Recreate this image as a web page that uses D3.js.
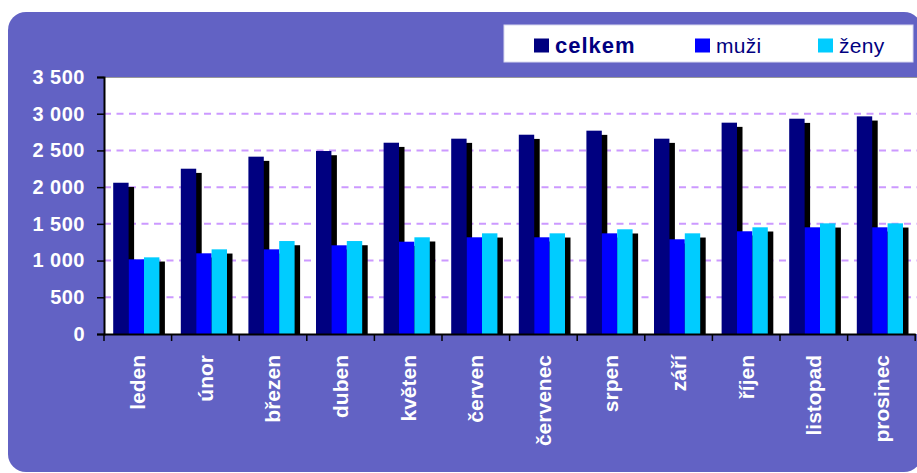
<!DOCTYPE html>
<html><head><meta charset="utf-8">
<script src="https://cdn.jsdelivr.net/npm/d3@7"></script>
<style>
html,body{margin:0;padding:0;background:#fff;}
svg{display:block;}
</style></head>
<body>
<svg id="chart" width="917" height="473"></svg>
<script>
const months = ["leden","únor","březen","duben","květen","červen","červenec","srpen","září","říjen","listopad","prosinec"];
const seriesNames = ["celkem","muži","ženy"];
const celkem = [2060, 2251, 2415, 2492, 2605, 2660, 2714, 2769, 2660, 2878, 2932, 2964];
const muzi   = [1017, 1099, 1153, 1208, 1257, 1317, 1317, 1371, 1290, 1399, 1453, 1453];
const zeny   = [1044, 1153, 1266, 1266, 1317, 1371, 1371, 1426, 1371, 1453, 1507, 1507];
const yTicks = [0, 500, 1000, 1500, 2000, 2500, 3000, 3500];
const colors = ["#000080", "#0000FF", "#00CCFF"];

(function () {
const seriesValues = [celkem, muzi, zeny];
const svg = d3.select("#chart");
const fmt = d3.formatLocale({decimal: ",", thousands: " ", grouping: [3], currency: ["", ""]}).format(",d");

// panel
svg.append("rect").attr("x", 8).attr("y", 12).attr("width", 914).attr("height", 460)
  .attr("rx", 18).attr("fill", "#6262C4");

const pLeft = 104, pRight = 915.2, pTop = 77, pBottom = 334;
const x0 = d3.scaleBand().domain(months).range([pLeft, pRight]).padding(0);
const x1 = d3.scaleBand().domain(seriesNames).range([0, x0.bandwidth()])
  .paddingInner(0).paddingOuter(0.695).align(0.43);
const y = d3.scaleLinear().domain([0, 3500]).range([pBottom, pTop]);

// plot area
svg.append("rect").attr("x", pLeft).attr("y", pTop).attr("width", 930 - pLeft).attr("height", pBottom - pTop)
  .attr("fill", "#fff");
svg.append("line").attr("x1", pLeft).attr("x2", 930).attr("y1", pTop + 0.5).attr("y2", pTop + 0.5)
  .attr("stroke", "#999").attr("stroke-width", 1);

// grid
svg.append("g").selectAll("line").data(yTicks.filter(d => d > 0 && d < 3500)).join("line")
  .attr("x1", pLeft).attr("x2", 930).attr("y1", d => y(d)).attr("y2", d => y(d))
  .attr("stroke", "#CC99FF").attr("stroke-width", 2).attr("stroke-dasharray", "7,5.5");

// bars with shadows
const sdx = 5.5, sdy = 4.2;
seriesNames.forEach((s, si) => {
  const g = svg.append("g");
  const vals = seriesValues[si];
  g.selectAll("rect.sh").data(months).join("rect").attr("class", "sh")
    .attr("x", m => x0(m) + x1(s) + sdx)
    .attr("y", (m, i) => y(vals[i]) + sdy)
    .attr("width", x1.bandwidth())
    .attr("height", (m, i) => Math.max(0, pBottom - y(vals[i]) - sdy))
    .attr("fill", "#000");
  g.selectAll("rect.bar").data(months).join("rect").attr("class", "bar")
    .attr("x", m => x0(m) + x1(s))
    .attr("y", (m, i) => y(vals[i]))
    .attr("width", x1.bandwidth())
    .attr("height", (m, i) => pBottom - y(vals[i]))
    .attr("fill", colors[si]);
});

// y axis
const yAxis = svg.append("g").attr("transform", `translate(${pLeft},0)`)
  .call(d3.axisLeft(y).tickValues(yTicks).tickSize(7).tickPadding(12).tickFormat(fmt));
yAxis.select(".domain").attr("stroke", "#000").attr("stroke-width", 2);
yAxis.selectAll(".tick line").attr("stroke", "#000").attr("stroke-width", 1.5);
yAxis.selectAll("text").attr("fill", "#fff").attr("font-family", "Liberation Sans, Arial, sans-serif")
  .attr("font-size", 20).attr("font-weight", "bold").attr("letter-spacing", 0.5);

// x axis
const xAxis = svg.append("g").attr("transform", `translate(0,${pBottom})`)
  .call(d3.axisBottom(x0).tickSize(0).tickFormat(""));
xAxis.select(".domain").attr("stroke", "#000").attr("stroke-width", 2);
svg.append("g").selectAll("line").data(months.map(m => x0(m)).concat([x0(months[11]) + x0.bandwidth()])).join("line")
  .attr("x1", d => d).attr("x2", d => d).attr("y1", pBottom).attr("y2", pBottom + 7)
  .attr("stroke", "#000").attr("stroke-width", 1.5);

svg.append("g").selectAll("text").data(months).join("text")
  .attr("transform", m => `translate(${x0(m) + x0.bandwidth() / 2},355) rotate(-90)`)
  .attr("text-anchor", "end").attr("dy", "0.35em")
  .attr("fill", "#fff").attr("font-family", "Liberation Sans, Arial, sans-serif")
  .attr("font-size", 21).attr("font-weight", "bold")
  .text(m => m);

// legend
const lg = svg.append("g");
lg.append("rect").attr("x", 504).attr("y", 25).attr("width", 409).attr("height", 37)
  .attr("fill", "#fff").attr("stroke", "#D8D8F0").attr("stroke-width", 1);
const legX = [534, 695, 818];
seriesNames.forEach((s, i) => {
  lg.append("rect").attr("x", legX[i]).attr("y", 38.5).attr("width", 15).attr("height", 14)
    .attr("fill", colors[i]);
  lg.append("text").attr("x", legX[i] + 21).attr("y", 52.5)
    .attr("fill", "#000080").attr("font-family", "Liberation Sans, Arial, sans-serif")
    .attr("font-size", i === 0 ? 22 : 21).attr("font-weight", i === 0 ? "bold" : "normal")
    .attr("letter-spacing", i === 0 ? 1 : 0.3)
    .text(s);
});
})();
</script>
</body></html>
